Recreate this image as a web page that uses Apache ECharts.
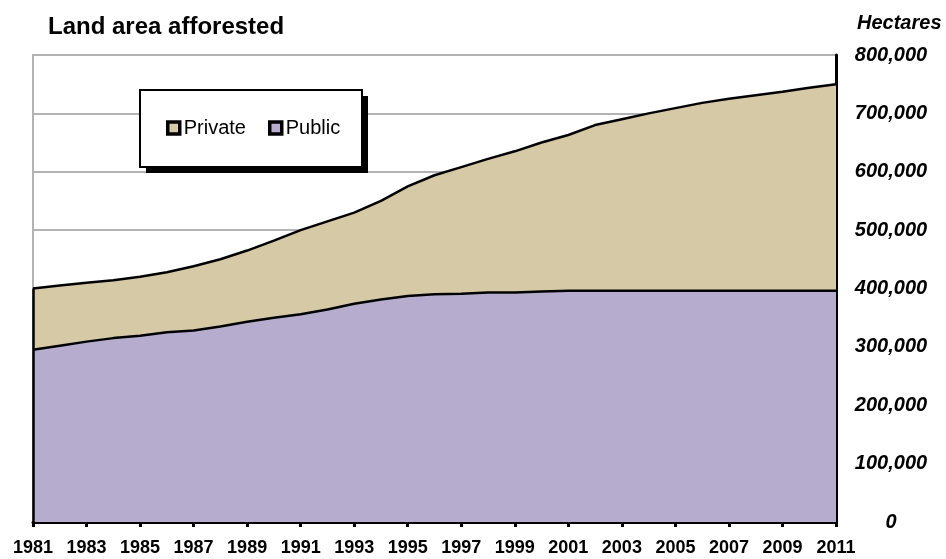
<!DOCTYPE html>
<html>
<head>
<meta charset="utf-8">
<script src="https://cdn.jsdelivr.net/npm/echarts@6/dist/echarts.min.js"></script>
<style>
  html, body { margin: 0; padding: 0; background: #fff; }
  #chart { width: 946px; height: 559px; }
</style>
</head>
<body>
<div id="chart"></div>
<script>
// years along the bottom
const years = ['1981', '1982', '1983', '1984', '1985', '1986', '1987', '1988', '1989', '1990',
  '1991', '1992', '1993', '1994', '1995', '1996', '1997', '1998', '1999', '2000',
  '2001', '2002', '2003', '2004', '2005', '2006', '2007', '2008', '2009', '2010', '2011'];

// hectares (public is the lower band)
const publicArea = [295000, 302000, 309000, 315000, 319000, 325000, 328000, 335000, 343000, 350000,
  356000, 364000, 374000, 381000, 387000, 390000, 391000, 393000, 393000, 395000,
  396000, 396000, 396000, 396000, 396000, 396000, 396000, 396000, 396000, 396000, 396000];
const privateArea = [105000, 103000, 101000, 99000, 101000, 103000, 110000, 115000, 122000, 132000,
  144000, 151000, 156000, 169000, 188000, 204000, 217000, 229000, 242000, 255000,
  267000, 284000, 294000, 304000, 313000, 322000, 329000, 335000, 341000, 348000, 354000];

const seriesNames = ['Private', 'Public'];
const font = 'Liberation Sans, Arial, sans-serif';

const chart = echarts.init(document.getElementById('chart'));

// black edge on the left side of the stacked areas
const firstTotal = publicArea[0] + privateArea[0];

const option = {
  animation: false,
  title: [{
    text: 'Land area afforested',
    left: 48,
    top: 15,
    padding: 0,
    textStyle: { fontFamily: font, fontSize: 24, fontWeight: 'bold', color: '#000' }
  }, {
    text: 'Hectares',
    left: 857,
    top: 13,
    padding: 0,
    textStyle: { fontFamily: font, fontSize: 20, fontWeight: 'bold', fontStyle: 'italic', color: '#000' }
  }],
  // legend frame with its drop shadow
  graphic: [{
    type: 'rect',
    z: 10,
    shape: { x: 146, y: 96, width: 222, height: 77 },
    style: { fill: '#000' }
  }, {
    type: 'rect',
    z: 11,
    shape: { x: 140, y: 90, width: 222, height: 77 },
    style: { fill: '#fff', stroke: '#000', lineWidth: 2 }
  }],
  legend: {
    data: seriesNames,
    left: 140,
    top: 90,
    z: 20,
    orient: 'horizontal',
    padding: [28, 26, 28, 26],
    itemGap: 22,
    itemWidth: 12,
    itemHeight: 12,
    icon: 'rect',
    itemStyle: { borderColor: '#000', borderWidth: 3.5 },
    textStyle: { fontFamily: font, fontSize: 20, color: '#000', padding: [0, 0, 0, -1] }
  },
  grid: {
    left: 33,
    right: 110,
    top: 55,
    bottom: 37,
    show: true,
    borderColor: '#b3b3b3',
    borderWidth: 2
  },
  xAxis: {
    type: 'category',
    data: years,
    boundaryGap: false,
    axisLine: { lineStyle: { color: '#000', width: 3 } },
    axisTick: { interval: 1, length: 5, lineStyle: { color: '#000', width: 3 } },
    axisLabel: {
      interval: 1,
      margin: 17,
      fontFamily: font,
      fontSize: 18,
      fontWeight: 'bold',
      color: '#000'
    },
    splitLine: { show: false }
  },
  yAxis: {
    type: 'value',
    position: 'right',
    min: 0,
    max: 800000,
    interval: 100000,
    axisLine: { show: true, lineStyle: { color: '#000', width: 3 } },
    axisTick: { show: false },
    axisLabel: {
      margin: 55,
      align: 'center',
      fontFamily: font,
      fontSize: 20,
      fontWeight: 'bold',
      fontStyle: 'italic',
      color: '#000',
      formatter: v => v.toLocaleString('en-US')
    },
    splitLine: { lineStyle: { color: '#b3b3b3', width: 2 } }
  },
  series: [{
    name: 'Public',
    type: 'line',
    stack: 'total',
    data: publicArea,
    symbol: 'none',
    itemStyle: { color: '#b6adce' },
    lineStyle: { color: '#000', width: 2.5 },
    areaStyle: { color: '#b6adce', opacity: 1 },
    z: 3
  }, {
    name: 'Private',
    type: 'line',
    stack: 'total',
    data: privateArea,
    symbol: 'none',
    itemStyle: { color: '#d6c9a6' },
    lineStyle: { color: '#000', width: 2.5 },
    areaStyle: { color: '#d6c9a6', opacity: 1 },
    markLine: {
      silent: true,
      symbol: 'none',
      label: { show: false },
      lineStyle: { color: '#000', width: 2.5, type: 'solid' },
      data: [[{ coord: [years[0], 0] }, { coord: [years[0], firstTotal] }]]
    },
    z: 2
  }]
};

chart.setOption(option);
</script>
</body>
</html>
